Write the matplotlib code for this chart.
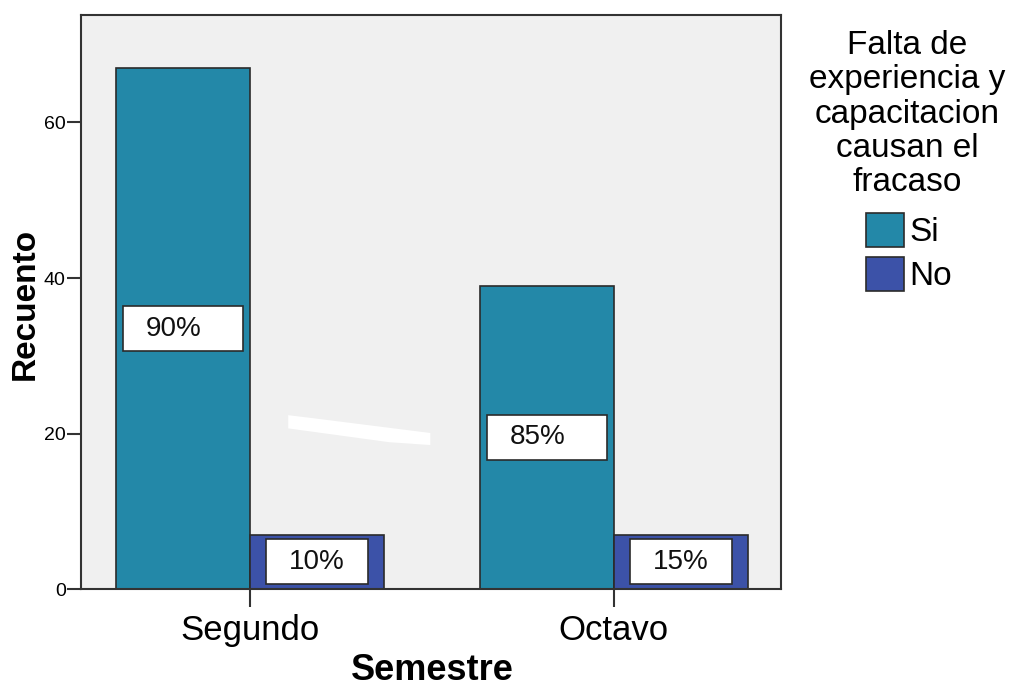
import matplotlib.pyplot as plt
from matplotlib.patches import Rectangle, Polygon, Patch
import numpy as np

# Recuentos por semestre
semestres = ['Segundo', 'Octavo']
si = [67, 39]
no = [7, 7]
pct_si = ['90%', '85%']
pct_no = ['10%', '15%']

color_si = '#2388A8'
color_no = '#3C52A8'
borde = '#2b2b2b'

plt.rcParams['font.family'] = ['Liberation Sans', 'DejaVu Sans']

fig = plt.figure(figsize=(10.09, 6.89), dpi=100)
ax = fig.add_axes([0.0803, 0.145, 0.6937, 0.833])
ax.set_facecolor('#F0F0F0')

x = np.arange(len(semestres))
w = 0.368
barras_si = ax.bar(x - w / 2, si, w, color=color_si, edgecolor=borde, linewidth=1.2, zorder=2)
barras_no = ax.bar(x + w / 2, no, w, color=color_no, edgecolor=borde, linewidth=1.2, zorder=2)

# Etiquetas de porcentaje en cajas blancas
def etiqueta(barra, texto, frac, dx):
    cx = barra.get_x() + barra.get_width() / 2
    cy = barra.get_height() / 2
    bw = barra.get_width() * frac
    bh = 5.8
    ax.add_patch(Rectangle((cx - bw / 2, cy - bh / 2), bw, bh, facecolor='white',
                           edgecolor=borde, linewidth=1.2, zorder=3))
    ax.text(cx + dx, cy, texto, ha='center', va='center', fontsize=20, color='#111111', zorder=4)

for b, t in zip(barras_si, pct_si):
    etiqueta(b, t, 0.9, -0.025)
for b, t in zip(barras_no, pct_no):
    etiqueta(b, t, 0.76, 0)

# Trazo blanco suelto en el fondo
ax.add_patch(Polygon([(0.296, 0.303), (0.33, 0.298), (0.499, 0.272), (0.499, 0.251),
                      (0.44, 0.256), (0.296, 0.280)], closed=True, transform=ax.transAxes,
                     facecolor='white', edgecolor='none', zorder=1))

ax.set_xlim(-0.464, 1.459)
ax.set_ylim(0, 73.8)
ax.set_xticks(x)
ax.set_xticklabels(semestres, fontsize=25)
ax.set_yticks([0, 20, 40, 60])
ax.tick_params(axis='y', labelsize=14, length=10, width=1.5, color='#333333', pad=1)
ax.tick_params(axis='x', length=13, width=1.5, color='#333333', pad=5)
for s in ax.spines.values():
    s.set_color('#333333')
    s.set_linewidth(1.5)

fig.text(432 / 1009, 1 - 671 / 689, 'Semestre', fontsize=26, fontweight='bold',
         ha='center', va='center')
fig.text(25 / 1009, 1 - 304 / 689, 'Recuento', fontsize=24, fontweight='bold',
         ha='center', va='center', rotation=90)

# Leyenda
fig.text(907 / 1009, 1 - 30 / 689, 'Falta de\nexperiencia y\ncapacitacion\ncausan el\nfracaso',
         fontsize=24, ha='center', va='top', multialignment='center', linespacing=1.14)
handles = [Patch(facecolor=color_si, edgecolor=borde, linewidth=1.2, label='Si'),
           Patch(facecolor=color_no, edgecolor=borde, linewidth=1.2, label='No')]
fig.legend(handles=handles, loc='upper left', bbox_to_anchor=(866 / 1009, 1 - 213 / 689),
           frameon=False, fontsize=24, borderpad=0, borderaxespad=0,
           handlelength=1.15, handleheight=1.2, handletextpad=0.15, labelspacing=0.25)

fig.savefig('out.png', dpi=100)
